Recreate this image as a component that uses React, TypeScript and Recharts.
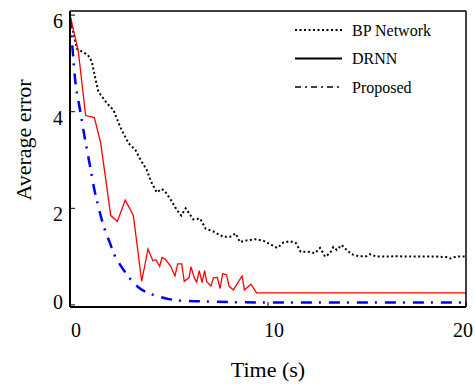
import { CartesianGrid, Legend, Line, LineChart, XAxis, YAxis } from "recharts";

// BP Network (black dotted)
const bpTime = [
  0, 0.35, 0.9, 1.1, 1.26, 1.43, 1.85, 2.19, 2.53, 2.95, 3.3, 3.54, 3.87, 4.1, 4.38, 4.63, 4.8, 5.1, 5.39, 5.62,
  5.84, 6.23, 6.57, 6.85, 7.24, 7.74, 8.08, 8.36, 8.59, 8.84, 9.34, 9.76, 10.19, 10.47, 10.77, 11.1, 11.41, 11.65,
  12.04, 12.37, 12.63, 12.88, 13.13, 13.3, 13.47, 13.72, 13.97, 14.22, 14.56, 14.98, 15.15, 15.49, 16, 16.5, 17,
  17.5, 18, 18.5, 19, 19.2, 19.5, 20,
];
const bpError = [
  5.95, 5.3, 5.18, 5.04, 4.73, 4.42, 4.18, 4.04, 3.69, 3.35, 3.21, 3.02, 2.8, 2.55, 2.33, 2.4, 2.35, 2.17, 1.97, 1.85,
  2.0, 1.77, 1.79, 1.58, 1.52, 1.41, 1.41, 1.48, 1.3, 1.33, 1.36, 1.33, 1.24, 1.18, 1.29, 1.32, 1.28, 1.1, 1.1, 1.07,
  1.18, 1.0, 1.07, 1.2, 1.14, 1.24, 1.14, 1.05, 1.01, 1.01, 1.05, 1.0, 1.0, 1.01, 1.0, 1.0, 1.0, 1.0, 0.99, 0.96, 1.0,
  1.0,
];

// DRNN (red solid)
const drnnTime = [
  0, 0.42, 0.79, 1.23, 1.55, 2.06, 2.39, 2.79, 3.2, 3.62, 3.94, 4.19, 4.33, 4.53, 4.65, 4.83, 5.1, 5.3, 5.44, 5.64,
  5.77, 6.01, 6.11, 6.28, 6.4, 6.53, 6.67, 6.8, 6.9, 7.12, 7.24, 7.44, 7.58, 7.71, 7.91, 8.03, 8.25, 8.69, 8.81, 9.14,
  9.42, 20,
];
const drnnError = [
  6.0, 5.25, 3.92, 3.88, 3.35, 1.85, 1.73, 2.17, 1.85, 0.49, 1.16, 0.91, 0.94, 0.8, 0.98, 0.94, 0.79, 0.6, 0.85, 0.85,
  0.49, 0.56, 0.79, 0.56, 0.47, 0.71, 0.46, 0.71, 0.48, 0.39, 0.56, 0.57, 0.34, 0.65, 0.62, 0.39, 0.31, 0.6, 0.31,
  0.43, 0.25, 0.25,
];

// Proposed (blue dash-dot)
const propTime = [0, 0.1, 0.25, 0.5, 0.75, 1.0, 1.25, 1.5, 1.75, 2.0, 2.25, 2.5, 2.75, 3.0, 3.5, 4.0, 4.5, 5.0, 5.5, 6, 7, 8, 10, 14, 20];
const propError = [
  5.95, 5.45, 4.7, 4.05, 3.45, 2.9, 2.35, 1.92, 1.57, 1.3, 1.03, 0.85, 0.7, 0.56, 0.35, 0.24, 0.17, 0.12, 0.09, 0.08,
  0.07, 0.06, 0.05, 0.05, 0.05,
];

const xTicks = [0, 10, 20];
const yTicks = [0, 2, 4, 6];
const seriesNames = ["BP Network", "DRNN", "Proposed"];

const zip = (ts: number[], ys: number[]) => ts.map((t, i) => ({ t, y: ys[i] }));
const bpData = zip(bpTime, bpError);
const drnnData = zip(drnnTime, drnnError);
const propData = zip(propTime, propError);

const FONT = '"Liberation Serif", "Times New Roman", serif';

const YTick = ({ x, y, payload }: any) => (
  <text
    x={x}
    y={y}
    dy={payload.value === 0 ? -3 : 6}
    textAnchor="end"
    dominantBaseline="central"
    fontSize={20}
    fontFamily={FONT}
    fill="#000"
  >
    {payload.value}
  </text>
);

const XTick = ({ x, y, payload }: any) => (
  <text
    x={x}
    y={y}
    dx={payload.value === 20 ? -3 : 6}
    textAnchor="middle"
    dominantBaseline="central"
    fontSize={20}
    fontFamily={FONT}
    fill="#000"
  >
    {payload.value}
  </text>
);

const legendSamples = [
  { stroke: "#000", width: 2, dash: "2 2.5" },
  { stroke: "#000", width: 2, dash: undefined },
  { stroke: "#000", width: 1.6, dash: "6 4 2 4" },
];

const LegendBox = () => (
  <svg width={170} height={90}>
    {seriesNames.map((name, i) => {
      const cy = 15 + i * 28.5;
      const s = legendSamples[i];
      return (
        <g key={name}>
          <line x1={0} x2={47} y1={cy} y2={cy} stroke={s.stroke} strokeWidth={s.width} strokeDasharray={s.dash} />
          <text x={57} y={cy} dominantBaseline="central" fontSize={16} fontFamily={FONT} fill="#000">
            {name}
          </text>
        </g>
      );
    })}
  </svg>
);

export default function App() {
  return (
    <div>
      <style>{"body{margin:0}"}</style>
      <LineChart width={475} height={384} margin={{ top: 0, right: 0, bottom: 0, left: 0 }}>
        <XAxis
          dataKey="t"
          type="number"
          domain={[0, 20]}
          ticks={xTicks}
          allowDataOverflow
          height={77}
          tickSize={-5}
          tickMargin={28}
          tick={<XTick />}
          stroke="#000"
          axisLine={{ stroke: "#000", strokeWidth: 2 }}
          tickLine={{ stroke: "#000" }}
          label={{ value: "Time (s)", position: "insideBottom", offset: 7, fontSize: 22, fontFamily: FONT, fill: "#000" }}
        />
        <XAxis
          xAxisId="top"
          orientation="top"
          dataKey="t"
          type="number"
          domain={[0, 20]}
          ticks={xTicks}
          allowDataOverflow
          height={11}
          tickSize={-5}
          tick={false}
          axisLine={{ stroke: "#000", strokeWidth: 1.5 }}
          tickLine={{ stroke: "#000" }}
        />
        <YAxis
          type="number"
          domain={[-0.043, 6.085]}
          ticks={yTicks}
          allowDataOverflow
          width={70}
          tickSize={-5}
          tickMargin={12}
          tick={<YTick />}
          axisLine={{ stroke: "#000", strokeWidth: 2 }}
          tickLine={{ stroke: "#000" }}
          label={{
            value: "Average error",
            angle: -90,
            content: ({ viewBox }: any) => (
              <text
                x={23}
                y={140}
                transform={`rotate(-90, 23, 140)`}
                textAnchor="middle"
                dominantBaseline="central"
                fontSize={22}
                fontFamily={FONT}
                fill="#000"
              >
                Average error
              </text>
            ),
          }}
        />
        <YAxis
          yAxisId="r"
          orientation="right"
          type="number"
          domain={[-0.043, 6.085]}
          ticks={yTicks}
          allowDataOverflow
          width={9}
          tickSize={-5}
          tick={false}
          axisLine={{ stroke: "#000", strokeWidth: 1.5 }}
          tickLine={{ stroke: "#000" }}
        />
        <Legend
          layout="horizontal"
          verticalAlign="middle"
          align="center"
          wrapperStyle={{ top: 15, left: 295, width: 170, height: 90 }}
          content={() => <LegendBox />}
        />
        <Line
          data={bpData}
          dataKey="y"
          name={seriesNames[0]}
          type="linear"
          stroke="#000"
          strokeWidth={2}
          strokeDasharray="2 2.5"
          dot={false}
          activeDot={false}
          isAnimationActive={false}
        />
        <Line
          data={drnnData}
          dataKey="y"
          name={seriesNames[1]}
          type="linear"
          stroke="#ff0000"
          strokeWidth={1.3}
          dot={false}
          activeDot={false}
          isAnimationActive={false}
        />
        <Line
          data={propData}
          dataKey="y"
          name={seriesNames[2]}
          type="monotone"
          stroke="#0000ff"
          strokeWidth={2.5}
          strokeDasharray="11 7 2 8"
          dot={false}
          activeDot={false}
          isAnimationActive={false}
        />
      </LineChart>
    </div>
  );
}
